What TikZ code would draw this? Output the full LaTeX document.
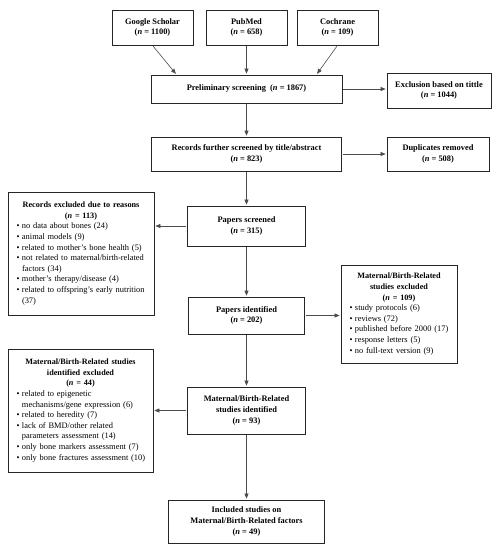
\documentclass[tikz,border=0pt]{standalone}
\usepackage{fontspec}
\setmainfont{Liberation Serif}
\usetikzlibrary{arrows.meta,calc}
\newcommand{\nn}[1]{(\textit{n} = #1)}
\newcommand{\itm}[1]{\par\noindent\hangindent=8pt\hangafter=1\hspace*{2.5pt}\makebox[5.5pt][l]{\textbullet}#1}
\newcommand{\brk}{\hfil\break}
\begin{document}
\begin{tikzpicture}[x=1pt,y=-1pt,
  box/.style={draw=black!85, line width=0.8pt, align=center, font=\fontsize{8.4}{10.6}\selectfont\bfseries, inner sep=3pt},
  lbox/.style={draw=black!85, line width=0.8pt, font=\fontsize{8.4}{10.6}\selectfont, inner xsep=6pt, inner ysep=4pt},
  ttl/.style={},
  arr/.style={-{Triangle[length=5pt,width=4pt]}, draw=black!70, line width=0.6pt, shorten >=1pt, shorten <=1pt}]
\useasboundingbox (0,0) rectangle (500,550);
\node[box, minimum width=81pt, minimum height=35pt] (gs) at (152.5,27.5) {Google Scholar\\\nn{1100}};
\node[box, minimum width=81pt, minimum height=35pt] (pm) at (246.5,27.5) {PubMed\\\nn{658}};
\node[box, minimum width=81pt, minimum height=35pt] (co) at (337.5,27.5) {Cochrane\\\nn{109}};
\node[box, minimum width=191pt, minimum height=28pt] (pre) at (246.5,89) {Preliminary screening\ \ \nn{1867}};
\node[box, minimum width=104pt, minimum height=35pt] (exc) at (439,90.5) {Exclusion based on tittle\\\nn{1044}};
\node[box, minimum width=190pt, minimum height=34pt] (rec) at (246.5,154) {Records further screened by title/abstract\\\nn{823}};
\node[box, minimum width=102pt, minimum height=34pt] (dup) at (438,154) {Duplicates removed\\\nn{508}};
\node[box, minimum width=118pt, minimum height=40pt] (ps) at (246.5,226) {Papers screened\\\nn{315}};
\node[box, minimum width=116pt, minimum height=37pt] (pi) at (246.5,315.5) {Papers identified\\\nn{202}};
\node[box, minimum width=118pt, minimum height=47pt] (mi) at (246.5,410.5) {Maternal/Birth-Related\\studies identified\\\nn{93}};
\node[box, minimum width=156pt, minimum height=43pt] (inc) at (246.5,521.5) {Included studies on\\Maternal/Birth-Related factors\\\nn{49}};
\node[lbox, text width=134pt, minimum height=123pt] (rex) at (81,253.5) {{\centering\bfseries\fontsize{8.2}{10.6}\selectfont Records excluded due to reasons\\\nn{113}\par}\raggedright
\itm{no data about bones (24)}
\itm{animal models (9)}
\itm{related to mother’s bone health (5)}
\itm{not related to maternal/birth-related\brk factors (34)}
\itm{mother’s therapy/disease (4)}
\itm{related to offspring’s early nutrition\brk (37)}\par};
\node[lbox, text width=104pt, minimum height=98pt] (mex) at (399,314) {{\centering\bfseries\fontsize{8.2}{10.6}\selectfont Maternal/Birth-Related\\studies excluded\\\nn{109}\par}\raggedright
\itm{study protocols (6)}
\itm{reviews (72)}
\itm{published before 2000 (17)}
\itm{response letters (5)}
\itm{no full-text version (9)}\par};
\node[lbox, text width=133pt, minimum height=123pt] (miex) at (80.5,410.5) {{\centering\bfseries\fontsize{8.2}{10.6}\selectfont Maternal/Birth-Related studies\\identified excluded\\\nn{44}\par}\raggedright
\itm{related to epigenetic\brk mechanisms/gene expression (6)}
\itm{related to heredity (7)}
\itm{lack of BMD/other related\brk parameters assessment (14)}
\itm{only bone markers assessment (7)}
\itm{only bone fractures assessment (10)}\par};
\draw[arr] (gs.south) -- ($(pre.north)+(-70,0)$);
\draw[arr] (pm.south) -- (pre.north);
\draw[arr] (co.south) -- ($(pre.north)+(70,0)$);
\draw[arr] (pre.east) -- (pre.east -| exc.west);
\draw[arr] (pre.south) -- (rec.north);
\draw[arr] (rec.east) -- (rec.east -| dup.west);
\draw[arr] (rec.south) -- (ps.north);
\draw[arr] (ps.west) -- (ps.west -| rex.east);
\draw[arr] (ps.south) -- (pi.north);
\draw[arr] (pi.east) -- (pi.east -| mex.west);
\draw[arr] (pi.south) -- (mi.north);
\draw[arr] (mi.west) -- (mi.west -| miex.east);
\draw[arr] (mi.south) -- (inc.north);
\end{tikzpicture}
\end{document}
